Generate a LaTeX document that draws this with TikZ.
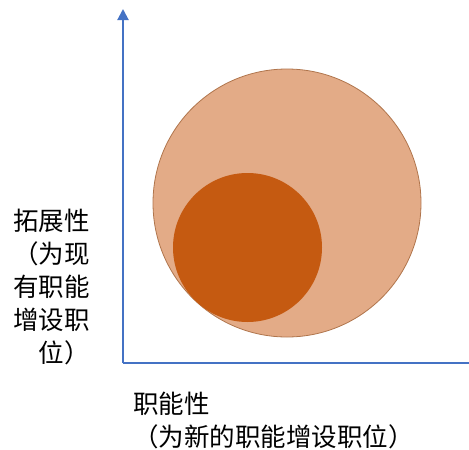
\documentclass[tikz,border=0pt]{standalone}
\usepackage{fontspec}
\newfontfamily\cjk{Noto Sans CJK SC}
\usetikzlibrary{arrows.meta}
\definecolor{axisblue}{HTML}{4472C4}
\definecolor{bigfill}{HTML}{E3AB87}
\definecolor{bigedge}{HTML}{B0754C}
\definecolor{smallfill}{HTML}{C55A11}
\tikzset{
  axisline/.style={draw=axisblue, line width=2pt},
  bigcircle/.style={circle, fill=bigfill, draw=bigedge, line width=0.8pt, inner sep=0pt, minimum size=268pt},
  smallcircle/.style={circle, fill=smallfill, draw=none, inner sep=0pt, minimum size=149pt},
  labeltext/.style={font=\cjk\fontsize{25.5}{33}\selectfont, inner sep=0pt, text=black}
}
\begin{document}
\begin{tikzpicture}[x=1pt,y=-1pt]
\useasboundingbox (0,0) rectangle (469,450);
\node[bigcircle] (big) at (287,203) {};
\node[smallcircle] (small) at (247.5,247.5) {};
\coordinate (O) at (123,363);
\coordinate (ytop) at (123,9);
\coordinate (xend) at (470,363);
\draw[axisline, -{Triangle[width=11pt,length=11pt]}] (O) -- (ytop);
\draw[axisline] (O) -- (xend);
\node[labeltext, align=right, anchor=east] (ylab) at (90,287) {拓展性\\（为现\\有职能\\增设职\\位）};
\node[labeltext, align=left, anchor=west] (xlab) at (133,420) {职能性\\（为新的职能增设职位）};
\end{tikzpicture}
\end{document}
